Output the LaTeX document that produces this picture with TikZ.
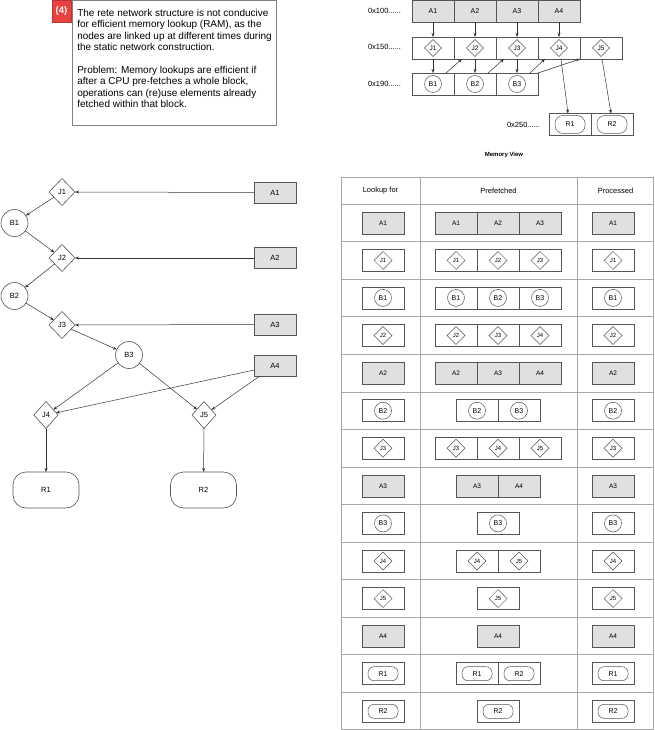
\documentclass[tikz,border=0pt]{standalone}
\usepackage{fontspec}
\setmainfont{Liberation Sans}
\usetikzlibrary{shapes.geometric,shapes.misc,arrows.meta,calc}
\definecolor{grayf}{HTML}{E0E0E0}
\definecolor{boxc}{HTML}{555555}
\definecolor{gridc}{HTML}{A8A8A8}
\definecolor{badgec}{HTML}{E8413F}
\definecolor{linec}{HTML}{333333}
\newcommand\slotrow[4]{%
  \foreach [count=\i] \t/\l in {#4} {%
    \node[slot, slot\t] (#1\i) at ({#2+21+42*(\i-1)},#3) {};
    \node[item\t] (#1\i x) at (#1\i) {\l};
  }}
\begin{document}
\begin{tikzpicture}[x=1pt,y=-1pt,
  every node/.style={inner sep=0pt, outer sep=0pt},
  slot/.style={draw=boxc, line width=0.6pt, minimum width=42pt, minimum height=22pt, fill=white},
  slota/.style={fill=grayf},
  slotj/.style={}, slotb/.style={}, slotr/.style={},
  itema/.style={font=\fontsize{6.5}{7}\selectfont},
  itemj/.style={diamond, draw=boxc, line width=0.5pt, minimum size=18pt, font=\fontsize{6}{7}\selectfont},
  itemb/.style={circle, draw=boxc, line width=0.5pt, minimum size=17pt, font=\fontsize{7}{8}\selectfont},
  itemr/.style={rectangle, rounded corners=6pt, draw=boxc, line width=0.5pt, minimum width=30pt, minimum height=14pt, font=\fontsize{7}{8}\selectfont},
  arr/.style={draw=linec, line width=0.5pt, -{Stealth[length=4pt,width=3pt]}},
  gdia/.style={diamond, draw=boxc, line width=0.6pt, minimum width=26pt, minimum height=27pt, fill=white, font=\fontsize{7.5}{8}\selectfont},
  gcirc/.style={circle, draw=boxc, line width=0.6pt, minimum size=27pt, fill=white, font=\fontsize{7.5}{8}\selectfont},
  gbox/.style={draw=boxc, line width=0.6pt, fill=grayf, minimum width=42pt, minimum height=21pt, font=\fontsize{7.5}{8}\selectfont},
  gres/.style={rectangle, rounded corners=13pt, draw=boxc, line width=0.6pt, minimum width=66pt, minimum height=36pt, fill=white, font=\fontsize{7.5}{8}\selectfont},
  hdr/.style={font=\fontsize{7.5}{8}\selectfont},
  addr/.style={anchor=east, font=\fontsize{7.5}{8}\selectfont},
]
\useasboundingbox (0,0) rectangle (654,730);

% ---------- text box ----------
\node[draw=gray, line width=0.8pt, fill=white, anchor=north west, minimum width=204pt, minimum height=125pt] (tbox) at (72,0.4) {};
\node[fill=badgec, draw=badgec!80!black, line width=0.5pt, minimum width=19pt, minimum height=22pt, text=white, font=\bfseries\fontsize{9.5}{10}\selectfont] (badge) at (61.5,11) {(4)};
\node[anchor=north west, align=left, font=\fontsize{10}{11.4}\selectfont] (txt) at (77.3,9)
{The rete network structure is not conducive\\
for efficient memory lookup (RAM), as the\\
nodes are linked up at different times during\\
the static network construction.\\[11.4pt]
Problem: Memory lookups are efficient if\\
after a CPU pre-fetches a whole block,\\
operations can (re)use elements already\\
fetched within that block.};

% ---------- memory view ----------
\begin{scope}[itemr/.append style={minimum height=18pt, rounded corners=8pt}, itema/.style={font=\fontsize{7}{8}\selectfont}, itemj/.append style={minimum size=17pt, font=\fontsize{6.5}{7}\selectfont}, itemb/.append style={font=\fontsize{7}{8}\selectfont}]
\slotrow{ma}{412}{11}{a/A1,a/A2,a/A3,a/A4}
\slotrow{mj}{412}{48}{j/J1,j/J2,j/J3,j/J4,j/J5}
\slotrow{mb}{412}{84}{b/B1,b/B2,b/B3}
\slotrow{mr}{549}{124.5}{r/R1,r/R2}
\end{scope}
\node[addr] (l100) at (401,11) {0x100......};
\node[addr] (l150) at (401,47) {0x150......};
\node[addr] (l190) at (401,84) {0x190......};
\node[addr] (l250) at (540,125) {0x250......};
\node[font=\bfseries\fontsize{6}{7}\selectfont] (mvt) at (504,155) {Memory View};
\foreach \i in {1,...,4} \draw[arr] (ma\i.south) -- (mj\i.north);
\foreach \i in {1,2,3} \draw[arr] (mj\i.south) -- (mb\i.north);
\draw[arr] ($(mb1.north east)+(-8,0)$) -- ($(mj2.south west)+(8,0)$);
\draw[arr] ($(mb2.north east)+(-8,0)$) -- ($(mj3.south west)+(8,0)$);
\draw[arr] ($(mb3.north east)+(-8,0)$) -- ($(mj4.south west)+(7,0)$);
\draw[arr] (mb3.north east) -- (mj5.south west);
\draw[arr] ($(mj4.south)+(2,0)$) -- ($(mr1.north)+(-2,0)$);
\draw[arr] ($(mj5.south)+(1,0)$) -- ($(mr2.north)+(-1,0)$);

% ---------- rete graph ----------
\node[gdia] (J1) at (62,192) {J1};
\node[gbox] (A1) at (275,192.5) {A1};
\node[gcirc] (B1) at (14.5,223) {B1};
\node[gdia] (J2) at (62,258) {J2};
\node[gbox] (A2) at (275,258) {A2};
\node[gcirc] (B2) at (14.5,296) {B2};
\node[gdia] (J3) at (62,325) {J3};
\node[gbox] (A3) at (275,324.5) {A3};
\node[gcirc] (B3) at (129,355) {B3};
\node[gbox] (A4) at (275,365.5) {A4};
\node[gdia, minimum width=24pt] (J4) at (46,415) {J4};
\node[gdia, minimum width=24pt] (J5) at (204,415) {J5};
\node[gres] (R1) at (46,490) {R1};
\node[gres] (R2) at (203.5,490) {R2};
\draw[arr] (A1) -- (J1);
\draw[arr] (J1) -- (B1);
\draw[arr] (B1) -- (J2);
\draw[arr] (A2) -- (J2);
\draw[arr] (J2) -- (B2);
\draw[arr] (B2) -- (J3);
\draw[arr] (A3) -- (J3);
\draw[arr] (J3) -- (B3);
\draw[arr] (B3) -- (J4);
\draw[arr] (B3) -- (J5);
\draw[arr] (A4) -- (J4);
\draw[arr] (A4) -- (J5);
\draw[arr] (J4) -- (R1);
\draw[arr] (J5) -- (R2);

% ---------- table ----------
\draw[gridc, line width=0.7pt] (341,177) rectangle (653.6,729.6);
\draw[gridc, line width=0.7pt] (420,177) -- (420,729.6) (577,177) -- (577,729.6);
\foreach \k in {0,...,13} \draw[gridc, line width=0.7pt] (341,{204+37.57*\k}) -- (653.6,{204+37.57*\k});
\node[hdr] (h1) at (380.5,190.5) {Lookup for};
\node[hdr] (h2) at (498.5,190.5) {Prefetched};
\node[hdr] (h3) at (615.5,190.5) {Processed};

\slotrow{ka}{362}{222.8}{a/A1}\slotrow{pa}{435}{222.8}{a/A1,a/A2,a/A3}\slotrow{qa}{592}{222.8}{a/A1}
\slotrow{kb}{362}{260.4}{j/J1}\slotrow{pb}{435}{260.4}{j/J1,j/J2,j/J3}\slotrow{qb}{592}{260.4}{j/J1}
\slotrow{kc}{362}{297.9}{b/B1}\slotrow{pc}{435}{297.9}{b/B1,b/B2,b/B3}\slotrow{qc}{592}{297.9}{b/B1}
\slotrow{kd}{362}{335.5}{j/J2}\slotrow{pd}{435}{335.5}{j/J2,j/J3,j/J4}\slotrow{qd}{592}{335.5}{j/J2}
\slotrow{ke}{362}{373.1}{a/A2}\slotrow{pe}{435}{373.1}{a/A2,a/A3,a/A4}\slotrow{qe}{592}{373.1}{a/A2}
\slotrow{kf}{362}{410.7}{b/B2}\slotrow{pf}{456}{410.7}{b/B2,b/B3}\slotrow{qf}{592}{410.7}{b/B2}
\slotrow{kg}{362}{448.3}{j/J3}\slotrow{pg}{435}{448.3}{j/J3,j/J4,j/J5}\slotrow{qg}{592}{448.3}{j/J3}
\slotrow{kh}{362}{485.8}{a/A3}\slotrow{ph}{456}{485.8}{a/A3,a/A4}\slotrow{qh}{592}{485.8}{a/A3}
\slotrow{ki}{362}{523.4}{b/B3}\slotrow{pi}{477}{523.4}{b/B3}\slotrow{qi}{592}{523.4}{b/B3}
\slotrow{kj}{362}{561.0}{j/J4}\slotrow{pj}{456}{561.0}{j/J4,j/J5}\slotrow{qj}{592}{561.0}{j/J4}
\slotrow{kk}{362}{598.6}{j/J5}\slotrow{pk}{477}{598.6}{j/J5}\slotrow{qk}{592}{598.6}{j/J5}
\slotrow{kl}{362}{636.1}{a/A4}\slotrow{pl}{477}{636.1}{a/A4}\slotrow{ql}{592}{636.1}{a/A4}
\slotrow{km}{362}{673.7}{r/R1}\slotrow{pm}{456}{673.7}{r/R1,r/R2}\slotrow{qm}{592}{673.7}{r/R1}
\slotrow{kn}{362}{711.3}{r/R2}\slotrow{pn}{477}{711.3}{r/R2}\slotrow{qn}{592}{711.3}{r/R2}
\end{tikzpicture}
\end{document}
